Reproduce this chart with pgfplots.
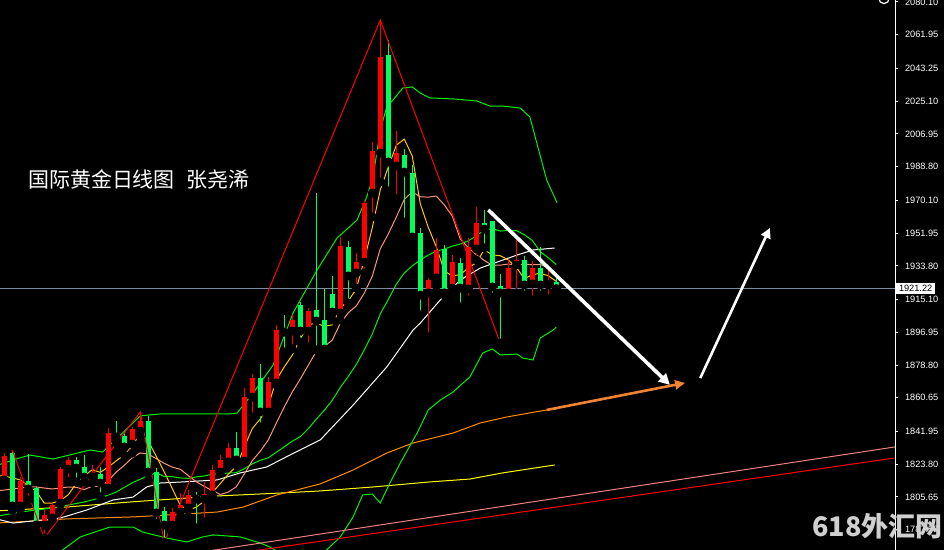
\documentclass[border=0pt]{standalone}
\usepackage{pgfplots}
\pgfplotsset{compat=1.18}
\usepackage{pgfplotstable}
\usepackage{fontspec}
\setmainfont{Liberation Sans}
\newfontfamily\cjk{Noto Sans CJK SC}
\usetikzlibrary{arrows.meta}
\definecolor{cred}{RGB}{255,0,0}
\definecolor{cgreen}{RGB}{0,255,90}
\definecolor{bandgreen}{RGB}{0,240,0}
\definecolor{maA}{RGB}{255,200,0}
\definecolor{maB}{RGB}{250,150,120}
\definecolor{maorange}{RGB}{255,140,0}
\definecolor{mayellow}{RGB}{255,255,0}
\definecolor{pricegray}{RGB}{125,140,160}
\definecolor{trendsalmon}{RGB}{240,128,128}
\definecolor{arroworange}{RGB}{240,130,50}
\definecolor{wm}{RGB}{208,208,208}

\pgfplotstableread{
x open high low close
0 1815.1 1830.0 1814.0 1828.4
1 1830.0 1831.7 1798.4 1800.7
2 1800.7 1816.7 1798.4 1814.5
3 1814.5 1829.5 1804.0 1810.1
4 1810.6 1811.2 1785.7 1790.1
5 1790.1 1798.4 1782.9 1795.7
6 1794.0 1802.3 1792.9 1801.2
7 1802.3 1822.3 1801.2 1821.2
8 1821.2 1827.8 1814.0 1826.2
9 1826.2 1827.8 1814.0 1821.7
10 1822.3 1828.9 1814.0 1816.7
11 1816.7 1823.4 1813.4 1818.4
12 1818.4 1822.3 1805.7 1813.4
13 1810.6 1843.9 1809.5 1841.1
14 1840.0 1847.8 1835.6 1838.9
15 1839.5 1841.7 1828.9 1833.4
16 1835.0 1844.5 1830.0 1843.4
17 1842.2 1852.8 1838.9 1847.8
18 1847.8 1850.6 1815.1 1819.5
19 1819.5 1821.7 1791.2 1796.8
20 1797.9 1800.1 1780.5 1790.1
21 1790.1 1799.6 1785.7 1797.3
22 1797.3 1807.9 1794.6 1801.2
23 1799.6 1809.5 1794.6 1806.8
24 1806.8 1808.4 1788.5 1804.5
25 1804.5 1814.0 1791.8 1807.3
26 1806.8 1823.4 1805.7 1820.6
27 1819.5 1828.9 1819.0 1826.2
28 1825.1 1835.6 1823.4 1832.8
29 1832.8 1841.7 1823.4 1826.2
30 1825.6 1866.1 1825.1 1861.1
31 1861.1 1873.9 1850.0 1871.6
32 1871.6 1879.4 1844.5 1852.8
33 1852.8 1872.2 1852.2 1869.4
34 1868.9 1901.0 1867.8 1898.2
35 1898.8 1906.6 1886.0 1897.1
36 1897.7 1906.6 1887.7 1903.8
37 1912.1 1913.8 1891.6 1897.7
38 1897.7 1910.4 1888.8 1908.8
39 1909.3 1974.2 1887.2 1903.2
40 1903.8 1921.0 1883.3 1887.7
41 1918.2 1928.2 1903.8 1908.2
42 1907.7 1949.8 1903.8 1944.8
43 1944.3 1947.6 1913.2 1928.2
44 1929.9 1940.9 1921.5 1935.9
45 1935.9 1970.3 1929.9 1968.7
46 1974.2 2002.5 1960.9 1997.5
47 1996.4 2070.1 1980.3 2049.6
48 2050.7 2059.0 1975.3 1991.4
49 1989.2 2008.6 1970.9 1996.4
50 1995.3 1998.6 1958.1 1985.8
51 1985.3 1989.7 1949.3 1949.8
52 1952.0 1954.8 1906.6 1917.6
53 1918.8 1927.1 1894.4 1926.0
54 1927.1 1949.3 1922.6 1942.6
55 1943.2 1945.4 1917.6 1918.8
56 1921.5 1939.8 1918.8 1935.9
57 1935.4 1938.2 1911.0 1921.5
58 1921.0 1949.3 1914.9 1944.3
59 1943.2 1966.4 1937.1 1957.6
60 1957.6 1964.8 1943.7 1954.2
61 1958.7 1958.7 1916.5 1922.1
62 1922.6 1929.3 1891.0 1918.8
63 1918.8 1937.6 1917.6 1932.6
64 1934.3 1949.3 1918.8 1937.1
65 1937.1 1939.3 1917.6 1923.2
66 1923.8 1936.5 1914.9 1932.6
67 1932.6 1944.3 1917.6 1923.2
68 1923.2 1933.7 1915.4 1925.4
69 1924.9 1927.1 1920.4 1921.2
}\candles

\pgfplotstableread{
x y
-1 1817.5
0 1817.3
1 1816.2
2 1815.1
3 1811.7
4 1808.8
5 1802.2
6 1802.3
7 1803.6
8 1806.9
9 1813.2
10 1817.4
11 1820.8
12 1819.3
13 1822.3
14 1825.7
15 1829.0
16 1834.0
17 1840.9
18 1836.6
19 1828.2
20 1819.5
21 1810.3
22 1801.0
23 1798.4
24 1800.0
25 1803.4
26 1808.1
27 1813.1
28 1818.3
29 1822.6
30 1833.4
31 1843.6
32 1848.9
33 1856.2
34 1870.6
35 1877.8
36 1884.3
37 1893.3
38 1901.1
39 1902.1
40 1900.2
41 1901.1
42 1910.5
43 1914.4
44 1921.0
45 1937.2
46 1955.0
47 1976.0
48 1988.6
49 2000.7
50 2004.1
51 1994.6
52 1968.2
53 1955.1
54 1944.4
55 1931.0
56 1928.2
57 1929.0
58 1932.6
59 1935.6
60 1942.7
61 1939.9
62 1939.4
63 1937.1
64 1933.0
65 1926.7
66 1928.9
67 1929.7
68 1928.3
69 1925.2
}\maFive

\pgfplotstableread{
x y
-1 1809.0
0 1809.5
1 1810.1
2 1810.6
3 1811.2
4 1811.2
5 1810.6
6 1810.1
7 1810.6
8 1811.2
9 1811.0
10 1809.8
11 1811.6
12 1811.5
13 1814.6
14 1819.5
15 1823.2
16 1827.4
17 1830.1
18 1829.4
19 1826.9
20 1824.3
21 1822.2
22 1821.0
23 1817.5
24 1814.1
25 1811.5
26 1809.2
27 1807.0
28 1808.4
29 1811.3
30 1818.4
31 1825.8
32 1831.0
33 1837.3
34 1846.6
35 1855.6
36 1863.9
37 1871.1
38 1878.7
39 1886.4
40 1889.0
41 1892.7
42 1901.9
43 1907.8
44 1911.6
45 1918.7
46 1928.1
47 1943.3
48 1951.5
49 1960.8
50 1970.7
51 1974.8
52 1972.1
53 1971.9
54 1972.5
55 1967.6
56 1961.4
57 1948.6
58 1943.9
59 1940.0
60 1936.8
61 1934.1
62 1934.2
63 1934.8
64 1934.3
65 1934.7
66 1934.4
67 1934.6
68 1932.7
69 1929.1
}\maTen

\pgfplotstableread{
x y
-1 1795.0
0 1795.7
2 1797.3
4 1798.4
6 1799.6
8 1801.2
10 1802.9
12 1805.1
14 1808.4
16 1813.5
18 1817.5
19 1819.0
20 1817.0
21 1816.9
22 1816.2
23 1816.0
24 1816.8
25 1817.3
26 1818.3
27 1818.6
28 1818.9
29 1819.1
30 1821.3
31 1824.0
32 1826.0
33 1827.4
34 1830.4
35 1833.5
36 1836.6
37 1839.1
38 1843.5
39 1848.8
40 1853.7
41 1859.3
42 1866.4
43 1872.5
44 1879.1
45 1887.2
46 1896.0
47 1907.2
48 1915.1
49 1923.6
50 1929.9
51 1933.8
52 1937.0
53 1939.8
54 1942.0
55 1943.1
56 1944.7
57 1945.9
58 1947.7
59 1950.4
60 1953.7
61 1954.4
62 1953.1
63 1953.4
64 1953.4
65 1951.1
66 1947.9
67 1941.6
68 1938.3
69 1934.5
}\bbMid

\pgfplotstableread{
x y
-1 1823.0
1.1 1826.2
3.2 1828.9
6.1 1826.7
10.7 1831.7
12.3 1830.6
17.0 1850.6
19.5 1851.7
28.2 1851.7
29.1 1852.2
31.1 1863.3
33.6 1878.8
36.1 1907.7
39.1 1931.5
41.6 1949.3
44.1 1959.2
45.3 1972.0
46.1 1983.1
47.0 2009.1
47.8 2021.9
48.6 2025.8
49.8 2032.4
51.0 2033.0
52.0 2029.6
53.2 2026.9
56.3 2026.3
59.1 2025.2
60.7 2022.4
62.3 2022.4
64.5 2021.3
65.7 2016.3
67.8 1981.4
69.1 1968.7
}\bbUp

\pgfplotstableread{
x y
5.7 1770.7
7.3 1776.3
9.5 1783.5
13.2 1789.0
16.1 1789.0
17.3 1786.2
20.3 1782.9
22.8 1780.7
24.8 1783.5
26.1 1784.6
29.5 1783.5
32.0 1780.1
33.2 1777.9
35.1 1772.9
37.6 1768.0
40.3 1776.3
42.0 1783.5
43.6 1794.6
44.8 1806.8
46.0 1807.3
47.0 1802.3
48.2 1813.4
49.5 1824.5
51.6 1841.1
53.0 1853.9
54.5 1859.4
56.1 1863.9
58.2 1872.2
59.8 1885.5
61.0 1887.7
62.0 1884.4
64.1 1884.9
64.8 1882.7
66.1 1881.6
67.0 1893.8
68.6 1898.2
69.0 1899.9
}\bbLow

\pgfplotstableread{
x y
-1 1793.5
1.1 1791.2
7.0 1794.0
10.3 1798.4
13.6 1804.0
16.1 1805.6
17.8 1811.2
19.5 1813.4
22.3 1814.0
26.6 1815.1
29.5 1819.0
32.8 1822.3
35.7 1828.9
39.5 1837.3
43.6 1856.6
47.8 1877.7
51.1 1898.2
52.0 1902.1
54.5 1914.9
57.0 1926.0
59.5 1932.6
61.6 1935.9
64.1 1939.8
66.1 1942.6
68.8 1943.7
}\maWhite

\pgfplotstableread{
x y
-1 1791.2
3.6 1792.3
7.8 1793.5
16.1 1794.6
18.2 1795.1
26.6 1797.3
29.9 1800.1
34.1 1806.8
39.5 1812.9
43.6 1820.6
47.8 1830.0
51.1 1835.6
56.1 1841.1
59.5 1846.7
62.8 1850.0
67.8 1853.9
69.0 1854.4
}\maOrange

\pgfplotstableread{
x y
-1 1797.9
7.8 1800.1
16.1 1803.0
26.6 1806.2
34.8 1807.9
39.5 1809.0
46.1 1811.2
53.2 1814.0
58.2 1815.6
62.3 1819.0
68.8 1823.4
}\maYellow

\begin{document}
\begin{tikzpicture}
\fill[black] (0,0) rectangle (472pt,275pt);
\begin{axis}[
  at={(0,0)}, anchor=south west, scale only axis,
  width=447.5pt, height=275pt,
  xmin=-0.5375, xmax=111.3375, ymin=1776.26, ymax=2081.21,
  axis x line=none, axis y line*=right,
  y axis line style={white, line width=0.5pt, -},
  ytick={2080.10,2061.95,2043.25,2025.10,2006.95,1988.80,1970.10,1951.95,1933.80,1915.10,1896.95,1878.80,1860.65,1841.95,1823.80,1805.65,1787.50},
  yticklabels={2080.10,2061.95,2043.25,2025.10,2006.95,1988.80,1970.10,1951.95,1933.80,1915.10,1896.95,1878.80,1860.65,1841.95,1823.80,1805.65,1787.50},
  tick align=outside, major tick length=1.5pt,
  ytick style={white, line width=0.5pt},
  yticklabel style={font=\fontsize{4.6}{5}\selectfont, text=white},
  every axis plot/.append style={line width=0.5pt, mark=none},
]
% moving averages and bands
\addplot[mayellow] table[x=x,y=y] {\maYellow};
\addplot[maorange] table[x=x,y=y] {\maOrange};
\addplot[white] table[x=x,y=y] {\maWhite};
\addplot[bandgreen] table[x=x,y=y] {\bbUp};
\addplot[bandgreen] table[x=x,y=y] {\bbMid};
\addplot[bandgreen] table[x=x,y=y] {\bbLow};
\addplot[maB] table[x=x,y=y] {\maTen};
\addplot[maA] table[x=x,y=y] {\maFive};
% price line
\addplot[pricegray] coordinates {(-0.5375,1921.22) (111.3375,1921.22)};
% trend channel lines
\addplot[trendsalmon] coordinates {(20,1772.0) (111.3375,1833.4)};
\addplot[cred] coordinates {(25,1771.8) (111.3375,1827.3)};
% candles: red = up, green = down
\addplot[only marks, mark=none, forget plot,
  restrict expr to domain={\thisrow{close}-\thisrow{open}}{0:10000},
  error bars/.cd, y dir=plus, y explicit, error mark=none,
  error bar style={draw=cred, line width=0.5pt, solid}]
  table[x=x, y=low, y error plus expr=\thisrow{high}-\thisrow{low}] {\candles};
\addplot[only marks, mark=none, forget plot,
  restrict expr to domain={\thisrow{close}-\thisrow{open}}{0:10000},
  error bars/.cd, y dir=plus, y explicit, error mark=none,
  error bar style={draw=cred, line width=2.5pt, solid}]
  table[x=x, y=open, y error plus expr=\thisrow{close}-\thisrow{open}] {\candles};
\addplot[only marks, mark=none, forget plot,
  restrict expr to domain={\thisrow{open}-\thisrow{close}}{0:10000},
  error bars/.cd, y dir=plus, y explicit, error mark=none,
  error bar style={draw=cgreen, line width=0.5pt, solid}]
  table[x=x, y=low, y error plus expr=\thisrow{high}-\thisrow{low}] {\candles};
\addplot[only marks, mark=none, forget plot,
  restrict expr to domain={\thisrow{open}-\thisrow{close}}{0:10000},
  error bars/.cd, y dir=plus, y explicit, error mark=none,
  error bar style={draw=cgreen, line width=2.5pt, solid}]
  table[x=x, y=close, y error plus expr=\thisrow{open}-\thisrow{close}] {\candles};
% zigzag
\addplot[cred] coordinates {(1,1831.7) (5,1782.9) (17,1852.8) (20,1780.5) (47,2070.1) (62,1891.0)};
% arrows
\addplot[arroworange, line width=1.3pt, -{Triangle[length=5pt,width=4.5pt]}] coordinates {(67.8,1853.9) (85.1,1868.9)};
\addplot[white, line width=1.8pt, -{Triangle[length=5.5pt,width=5.5pt]}] coordinates {(60.5,1964.8) (83.2,1867.8)};
\addplot[white, line width=1.3pt, -{Triangle[length=5pt,width=5pt]}] coordinates {(87.0,1871.6) (95.7,1954.8)};
\coordinate (lbl) at (axis cs:111.3375,1921.22);
\end{axis}
\node[anchor=west, fill=white, text=black, inner xsep=1.5pt, inner ysep=0.9pt,
  font=\fontsize{4.6}{5}\selectfont] at ([xshift=0.3pt]lbl) {1921.22};
\draw[white, line width=0.6pt] (442pt,275.8pt) circle (2.6pt);
\node[anchor=west, text=white, inner sep=0pt, font=\cjk\fontsize{10.5}{12}\selectfont]
  at (13.8pt,185.5pt) {国际黄金日线图\hspace{6pt}张尧浠};
\node[anchor=west, text=wm, inner sep=0pt, font=\cjk\bfseries\fontsize{13.5}{15}\selectfont]
  at (406pt,12pt) {618外汇网};
\pgfresetboundingbox
\useasboundingbox (0,0) rectangle (472pt,275pt);
\end{tikzpicture}
\end{document}
